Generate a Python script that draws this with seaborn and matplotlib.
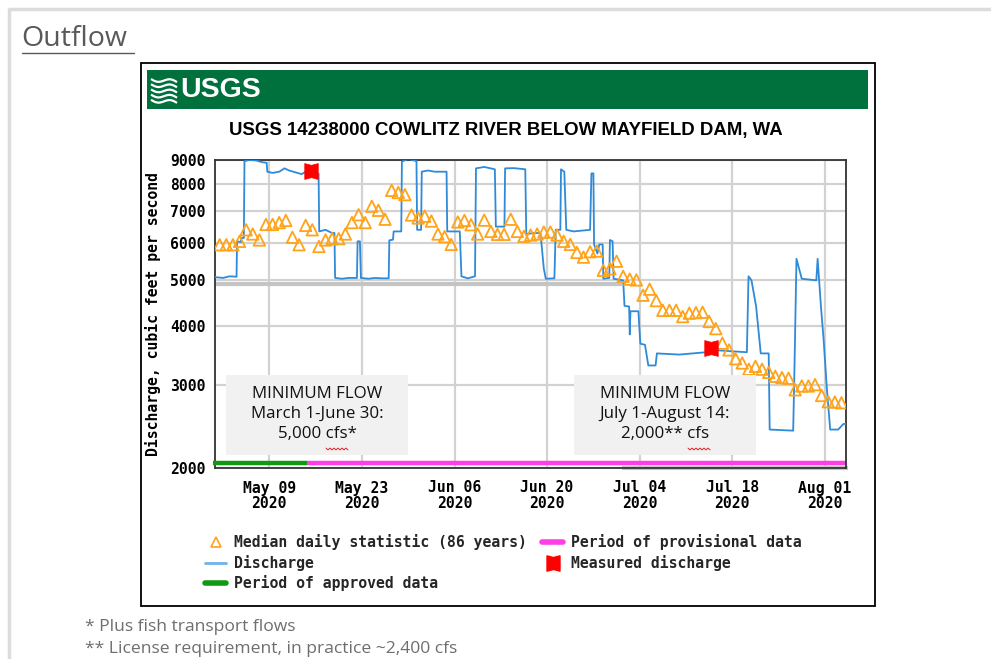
import numpy as np
import pandas as pd
import matplotlib
matplotlib.use("Agg")
import matplotlib.pyplot as plt
from matplotlib.lines import Line2D
from matplotlib.patches import Rectangle
from matplotlib.path import Path
from matplotlib.ticker import NullLocator
import seaborn as sns

# ---------------- data ----------------
start_date = "2020-05-01"

# discharge (cfs) at fractional days after May 1, 2020
discharge_day = [-0.25, 1.0, 2.0, 3.05, 3.12, 3.7, 3.8, 4.15, 4.25, 5.0, 6.0, 7.0, 7.6, 7.7,
                 8.5, 9.5, 10.3, 11.0, 12.0, 12.9, 13.5, 14.3, 15.2, 15.45, 15.55, 16.5,
                 17.5, 17.85, 17.95, 19.0, 20.0, 21.25, 21.35, 21.7, 21.85, 23.0, 24.0,
                 25.0, 26.05, 26.15, 26.7, 26.8, 27.95, 28.05, 29.0, 30.25, 30.35, 30.95,
                 31.05, 32.0, 33.0, 34.8, 34.9, 36.8, 37.05, 38.0, 39.1, 39.25, 40.5, 42.1,
                 42.25, 43.55, 43.65, 45.0, 46.7, 46.85, 48.0, 49.0, 49.5, 49.8, 51.1, 51.3,
                 52.0, 52.1, 52.6, 52.9, 54.0, 56.5, 56.7, 57.0, 57.1, 57.6, 57.9, 58.4,
                 58.5, 59.4, 59.5, 59.9, 60.05, 61.5, 61.7, 62.4, 62.5, 62.6, 63.8, 64.1,
                 64.8, 65.3, 66.4, 66.6, 70.0, 74.0, 74.8, 80.2, 80.45, 80.9, 81.6, 82.3,
                 83.5, 83.65, 87.2, 87.35, 87.7, 88.5, 90.7, 90.9, 91.4, 91.8, 92.3, 92.8,
                 94.0, 94.8, 95.3]
discharge_cfs = [5080, 5060, 5100, 5090, 6050, 6030, 6150, 6150, 8950, 9000, 8980, 8900, 8880, 8500,
                 8450, 8500, 8640, 8550, 8470, 8400, 8500, 8550, 8420, 8420, 6350, 6400,
                 6300, 6300, 5060, 5040, 5060, 5060, 6050, 6050, 5060, 5040, 5060,
                 5050, 5050, 6080, 6100, 6350, 6350, 8930, 9050, 8950, 6400, 6400,
                 8500, 8550, 8500, 8500, 6350, 6350, 5100, 5050, 5100, 8640, 8700, 8600,
                 6500, 6500, 8640, 8650, 8600, 6270, 6300, 6300, 5300, 5040, 5050, 6400,
                 6400, 8600, 8500, 6400, 6350, 6400, 8430, 8430, 5960, 5700, 5960, 5960,
                 5040, 5060, 6090, 6050, 5040, 5000, 4415, 4400, 3840, 4300, 4300, 3670,
                 3650, 3300, 3300, 3500, 3480, 3520, 3560, 3520, 5100, 5000, 4400, 3500,
                 3500, 2413, 2400, 3000, 5555, 5040, 5000, 5555, 4400, 3750, 2940, 2413,
                 2413, 2480, 2480]

# median daily statistic (86 years), one value per day from May 1
median_cfs = [5950, 5950, 5950, 6050, 6400, 6270, 6090, 6570, 6570, 6630,
              6700, 6170, 5950, 6540, 6400, 5900, 6090, 6130, 6130, 6270,
              6630, 6890, 6630, 7180, 7040, 6740, 7760, 7680, 7600, 6880,
              6780, 6840, 6680, 6270, 6190, 5960, 6650, 6700, 6560, 6270,
              6710, 6350, 6260, 6260, 6740, 6350, 6200, 6240, 6270, 6330,
              6330, 6240, 6050, 5960, 5730, 5600, 5750, 5770, 5250, 5290,
              5490, 5100, 5030, 5010, 4650, 4790, 4530, 4320, 4320, 4320,
              4190, 4260, 4270, 4280, 4090, 3950, 3680, 3560, 3410, 3340,
              3240, 3285, 3240, 3190, 3130, 3110, 3100, 2930, 2985, 2985,
              3005, 2850, 2765, 2760, 2750]

measured_time = ["2020-05-15 07:00", "2020-07-14 18:00"]
measured_cfs = [8550, 3600]

minflow_start = ["2020-04-30 18:00", "2020-07-01 07:00"]
minflow_end = ["2020-07-01 07:00", "2020-08-04 12:00"]
minflow_cfs = [4920, 2000]

approved_span = ["2020-04-30 12:00", "2020-05-14 16:00"]
provisional_span = ["2020-05-14 16:00", "2020-08-04 05:00"]
status_cfs = 2050

y_ticks = [2000, 3000, 4000, 5000, 6000, 7000, 8000, 9000]
x_tick_dates = ["2020-05-09", "2020-05-23", "2020-06-06", "2020-06-20",
                "2020-07-04", "2020-07-18", "2020-08-01"]
x_tick_labels = ["May 09\n2020", "May 23\n2020", "Jun 06\n2020", "Jun 20\n2020",
                 "Jul 04\n2020", "Jul 18\n2020", "Aug 01\n2020"]
x_limits = ["2020-04-30 19:00", "2020-08-04 04:30"]

title = "USGS 14238000 COWLITZ RIVER BELOW MAYFIELD DAM, WA"
legend_labels = ["Median daily statistic (86 years)", "Discharge", "Period of approved data",
                 "Period of provisional data", "Measured discharge"]

# ---------------- style ----------------
sns.set_theme(style="white")
plt.rcParams["font.family"] = ["DejaVu Sans"]

W, H = 991, 659
BLUE = "#2f8ad8"
ORANGE = "#ffa31a"
GREEN = "#119a11"
MAGENTA = "#ff3ee6"
RED = "#ff0000"
MONO = dict(family="DejaVu Sans Mono", weight="bold", size=10.6)
DOC = "Open Sans"

fig = plt.figure(figsize=(W / 100, H / 100), dpi=100)
fig.patch.set_facecolor("white")


def fx(x):
    return x / W


def fy(y):
    return 1 - y / H


def frect(x0, y0, x1, y1, **kw):
    fig.add_artist(Rectangle((fx(x0), fy(y1)), (x1 - x0) / W, (y1 - y0) / H,
                             transform=fig.transFigure, **kw))


def fline(xs, ys, **kw):
    fig.add_artist(Line2D([fx(v) for v in xs], [fy(v) for v in ys],
                          transform=fig.transFigure, **kw))


# page frame
fline([10, 991], [9, 9], color="#dcdcdc", lw=2.5)
fline([9, 9], [9, 659], color="#dcdcdc", lw=2.5)

# heading
fig.text(fx(21), fy(46.5), "Outflow", family=DOC, fontsize=20.5, color="#595959", va="baseline")
fline([22, 134], [52.5, 52.5], color="#595959", lw=1.0)

# chart frame
frect(141, 63, 875, 606, facecolor="none", edgecolor="black", lw=1.3, zorder=5)
# USGS banner
frect(147, 70, 868, 109, facecolor="#00703c", edgecolor="none", zorder=2)
fig.text(fx(180), fy(90), "USGS", family="Liberation Sans",
         weight="bold", fontsize=20.5, color="white", va="center", ha="left", zorder=3)
# wave icon
for k in range(5):
    xs = np.linspace(151, 177, 30)
    ys = 79 + k * 5.2 + 2.0 * np.sin((xs - 151) / 26 * 2 * np.pi) + (xs - 151) * 0.12
    fline(xs, ys, color="white", lw=1.6, zorder=3, solid_capstyle="butt")

fig.text(fx(506), fy(131), title, family="Liberation Sans", weight="bold",
         fontsize=13.4, color="black", ha="center", va="center")

# ---------------- axes ----------------
ax = fig.add_axes([fx(215), fy(468), (846 - 215) / W, (468 - 160) / H])
t0 = pd.Timestamp(start_date)
dis = pd.DataFrame({"time": t0 + pd.to_timedelta(discharge_day, unit="D"), "cfs": discharge_cfs})
med = pd.DataFrame({"time": pd.date_range(start_date, periods=len(median_cfs), freq="D")
                    + pd.Timedelta(hours=12), "cfs": median_cfs})
meas = pd.DataFrame({"time": pd.to_datetime(measured_time), "cfs": measured_cfs})

ax.set_yscale("log")

# minimum flow lines
for s, e, v in zip(minflow_start, minflow_end, minflow_cfs):
    ax.plot(pd.to_datetime([s, e]), [v, v], color="#c4c4c4", lw=3.0, zorder=1.5,
            clip_on=False, solid_capstyle="butt")
# data status bars
ax.plot(pd.to_datetime(provisional_span), [status_cfs] * 2, color=MAGENTA, lw=3.2,
        zorder=2.5, solid_capstyle="butt", clip_on=False)
ax.plot(pd.to_datetime(approved_span), [status_cfs] * 2, color=GREEN, lw=3.2,
        zorder=2.6, solid_capstyle="butt", clip_on=False)

sns.lineplot(data=dis, x="time", y="cfs", ax=ax, color=BLUE, lw=1.3, sort=False,
             estimator=None, legend=False, zorder=3)
sns.scatterplot(data=med, x="time", y="cfs", ax=ax, marker="^", s=68, color=ORANGE,
                facecolor="none", edgecolor=ORANGE, linewidth=1.3, legend=False, zorder=4)

bowtie = Path([(-0.85, -1), (0, -0.78), (0.85, -1), (0.85, 1), (0, 0.78), (-0.85, 1), (-0.85, -1)],
              [Path.MOVETO] + [Path.LINETO] * 5 + [Path.CLOSEPOLY])
sns.scatterplot(data=meas, x="time", y="cfs", ax=ax, marker=bowtie, s=130, color=RED,
                edgecolor=RED, linewidth=0.5, legend=False, zorder=5)

ax.set_ylim(2000, 9000)
ax.set_xlim(pd.to_datetime(x_limits))
ax.set_yticks(y_ticks)
ax.set_yticklabels([str(v) for v in y_ticks])
ax.yaxis.set_minor_locator(NullLocator())
ax.set_xticks(pd.to_datetime(x_tick_dates))
ax.set_xticklabels(x_tick_labels)
ax.xaxis.set_minor_locator(NullLocator())
ax.tick_params(axis="both", length=0)
ax.tick_params(axis="y", pad=7)
ax.tick_params(axis="x", pad=9)
for lab in ax.get_xticklabels() + ax.get_yticklabels():
    lab.set_fontfamily(MONO["family"])
    lab.set_fontweight("bold")
    lab.set_fontsize(MONO["size"])
    lab.set_color("black")
for lab in ax.get_xticklabels():
    lab.set_linespacing(1.05)
ax.set_xlabel("")
ax.set_ylabel("Discharge, cubic feet per second", fontfamily=MONO["family"],
              fontweight="bold", fontsize=MONO["size"], color="black", labelpad=6)
ax.grid(True, which="major", color="#d2d2d2", lw=1.6)
ax.set_axisbelow(True)
for sp in ax.spines.values():
    sp.set_color("#333333")
    sp.set_linewidth(1.3)
    sp.set_visible(True)

# ---------------- legend ----------------
handles = [
    Line2D([], [], ls="none", marker="^", mfc="none", mec=ORANGE, ms=7, mew=1.2),
    Line2D([], [], color="#6fb3ea", lw=2),
    Line2D([], [], color=GREEN, lw=4),
    Line2D([], [], color=MAGENTA, lw=4),
    Line2D([], [], ls="none", marker=bowtie, color=RED, ms=11),
]
fig.legend(handles, legend_labels, ncol=2, loc="upper left",
           bbox_to_anchor=(fx(205), fy(534.5)), frameon=False,
           prop=dict(family=MONO["family"], weight="bold", size=MONO["size"]),
           handlelength=1.45, handletextpad=0.55, columnspacing=1.0,
           labelspacing=0.3, borderpad=0, borderaxespad=0)

# ---------------- annotation boxes ----------------
frect(226, 375, 408, 455, facecolor="#f1f1f1", edgecolor="none", zorder=6)
frect(574, 375, 756, 455, facecolor="#f1f1f1", edgecolor="none", zorder=6)
fig.text(fx(317), fy(414), "MINIMUM FLOW\nMarch 1-June 30:\n5,000 cfs*", family=DOC,
         fontsize=12.2, color="#111111", ha="center", va="center", linespacing=1.32, zorder=7)
fig.text(fx(665), fy(414), "MINIMUM FLOW\nJuly 1-August 14:\n2,000** cfs", family=DOC,
         fontsize=12.2, color="#111111", ha="center", va="center", linespacing=1.32, zorder=7)


def squiggle(x0, x1, y):
    n = int((x1 - x0) / 2) + 1
    xs = np.linspace(x0, x1, n)
    ys = y + np.where(np.arange(n) % 2 == 0, -0.9, 0.9)
    fline(xs, ys, color="#e02020", lw=0.7, zorder=8)


squiggle(326, 348, 449)
squiggle(688, 710, 449)

# ---------------- footnotes ----------------
fig.text(fx(85), fy(631), "* Plus fish transport flows", family=DOC, fontsize=12.6,
         color="#6e6e6e", va="baseline")
fig.text(fx(85), fy(653), "** License requirement, in practice ~2,400 cfs", family=DOC,
         fontsize=12.6, color="#6e6e6e", va="baseline")

fig.savefig("out.png", dpi=100)
